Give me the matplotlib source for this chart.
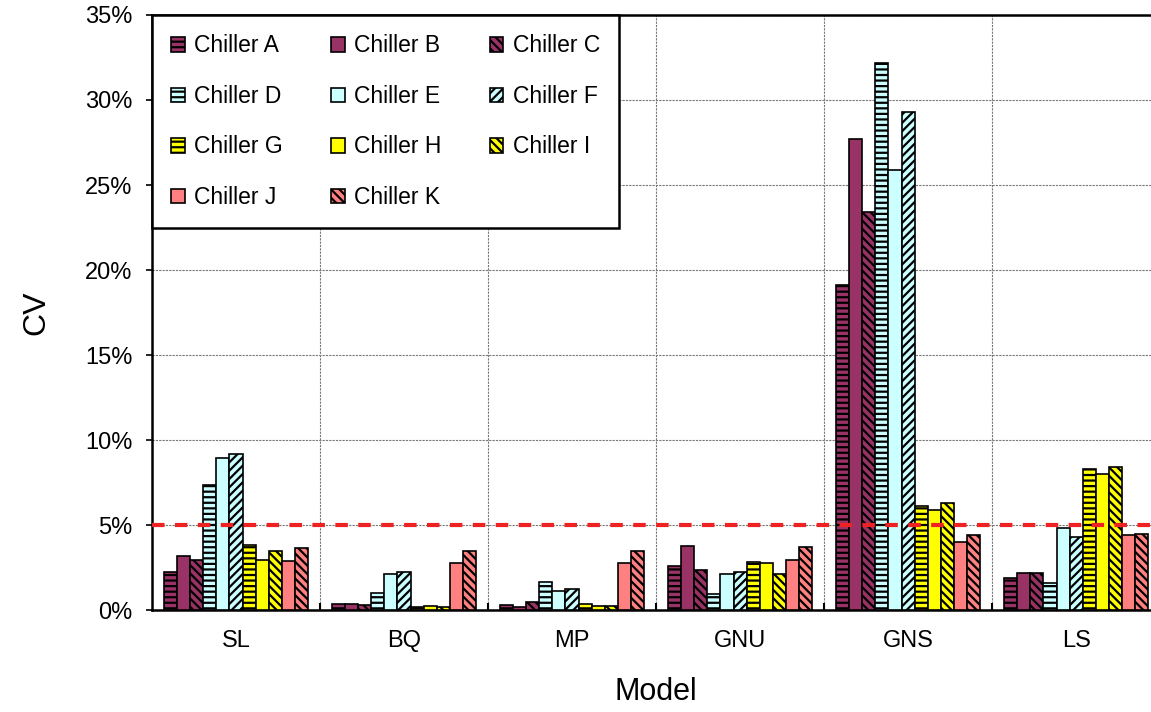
import numpy as np
import matplotlib
matplotlib.use('Agg')
import matplotlib.pyplot as plt
from matplotlib.ticker import FuncFormatter, FixedLocator

plt.rcParams['font.family'] = ['Liberation Sans', 'DejaVu Sans']
plt.rcParams['hatch.linewidth'] = 1.6

models = ['SL', 'BQ', 'MP', 'GNU', 'GNS', 'LS']
chillers = ['Chiller A', 'Chiller B', 'Chiller C', 'Chiller D', 'Chiller E', 'Chiller F',
            'Chiller G', 'Chiller H', 'Chiller I', 'Chiller J', 'Chiller K']

# CV in % per chiller, order: SL, BQ, MP, GNU, GNS, LS
cv_a = [2.25, 0.35, 0.29, 2.62, 19.1, 1.9]
cv_b = [3.18, 0.39, 0.16, 3.77, 27.7, 2.2]
cv_c = [2.98, 0.33, 0.49, 2.38, 23.4, 2.2]
cv_d = [7.39, 1.02, 1.67, 0.95, 32.2, 1.6]
cv_e = [8.92, 2.12, 1.12, 2.13, 25.9, 4.84]
cv_f = [9.18, 2.25, 1.24, 2.23, 29.3, 4.29]
cv_g = [3.86, 0.20, 0.39, 2.83, 6.13, 8.33]
cv_h = [2.98, 0.23, 0.25, 2.80, 5.87, 7.98]
cv_i = [3.49, 0.20, 0.25, 2.15, 6.30, 8.43]
cv_j = [2.90, 2.75, 2.75, 2.98, 4.02, 4.41]
cv_k = [3.67, 3.47, 3.47, 3.72, 4.41, 4.47]

series = [cv_a, cv_b, cv_c, cv_d, cv_e, cv_f, cv_g, cv_h, cv_i, cv_j, cv_k]
colors = ['#993366', '#993366', '#993366', '#CCFFFF', '#CCFFFF', '#CCFFFF',
          '#FFFF00', '#FFFF00', '#FFFF00', '#FF8080', '#FF8080']
hatches = ['---', None, '\\\\\\\\', '---', None, '////',
           '---', None, '\\\\\\\\', None, '\\\\\\\\']
threshold = 5

fig = plt.figure(figsize=(11.51, 7.12), dpi=100)
ax = fig.add_axes([0.132, 0.143, 0.876, 0.836])

x = np.arange(len(models))
w = 0.078
bars = []
for i, vals in enumerate(series):
    off = (i - 5) * w
    b = ax.bar(x + off, vals, w, color=colors[i], edgecolor='black', linewidth=1.2,
               hatch=hatches[i], label=chillers[i], zorder=3)
    bars.append(b)

ax.axhline(threshold, color='#EE2222', linestyle=(0, (3, 2.5)), linewidth=3, zorder=4)

ax.set_xlim(-0.5, 5.5)
ax.set_ylim(0, 35)
ax.yaxis.set_major_locator(FixedLocator(np.arange(0, 36, 5)))
ax.yaxis.set_major_formatter(FuncFormatter(lambda v, p: '%d%%' % v))
ax.set_xticks(x)
ax.set_xticklabels(models)
ax.set_xticks(np.arange(0.5, 5.5, 1), minor=True)
ax.tick_params(axis='x', which='major', length=0, labelsize=17, pad=14)
ax.tick_params(axis='x', which='minor', direction='in', length=5, width=1.5)
ax.tick_params(axis='y', direction='out', length=4, width=1.2, labelsize=17, pad=10)

ax.grid(True, axis='y', color='#777777', linestyle=(0, (2, 1)), linewidth=0.8, zorder=0)
ax.grid(True, axis='x', which='minor', color='#777777', linestyle=(0, (2, 1)), linewidth=0.8, zorder=0)

for s in ax.spines.values():
    s.set_linewidth(1.8)

ax.set_ylabel('CV', fontsize=23, labelpad=24)
ax.set_xlabel('Model', fontsize=22, labelpad=18)

# row-major order for a 3-column legend
order = [0, 3, 6, 9, 1, 4, 7, 10, 2, 5, 8]
leg = ax.legend([bars[k] for k in order], [chillers[k] for k in order],
                ncol=3, loc='upper left', bbox_to_anchor=(0.0, 1.0), borderaxespad=0,
                fontsize=16.5, handlelength=0.6, handleheight=0.6, handletextpad=0.4,
                labelspacing=1.2, columnspacing=2.1, borderpad=0.85, fancybox=False,
                framealpha=1, edgecolor='black')
leg.get_frame().set_linewidth(1.8)
leg.set_zorder(5)

fig.savefig('out.png', dpi=100)
